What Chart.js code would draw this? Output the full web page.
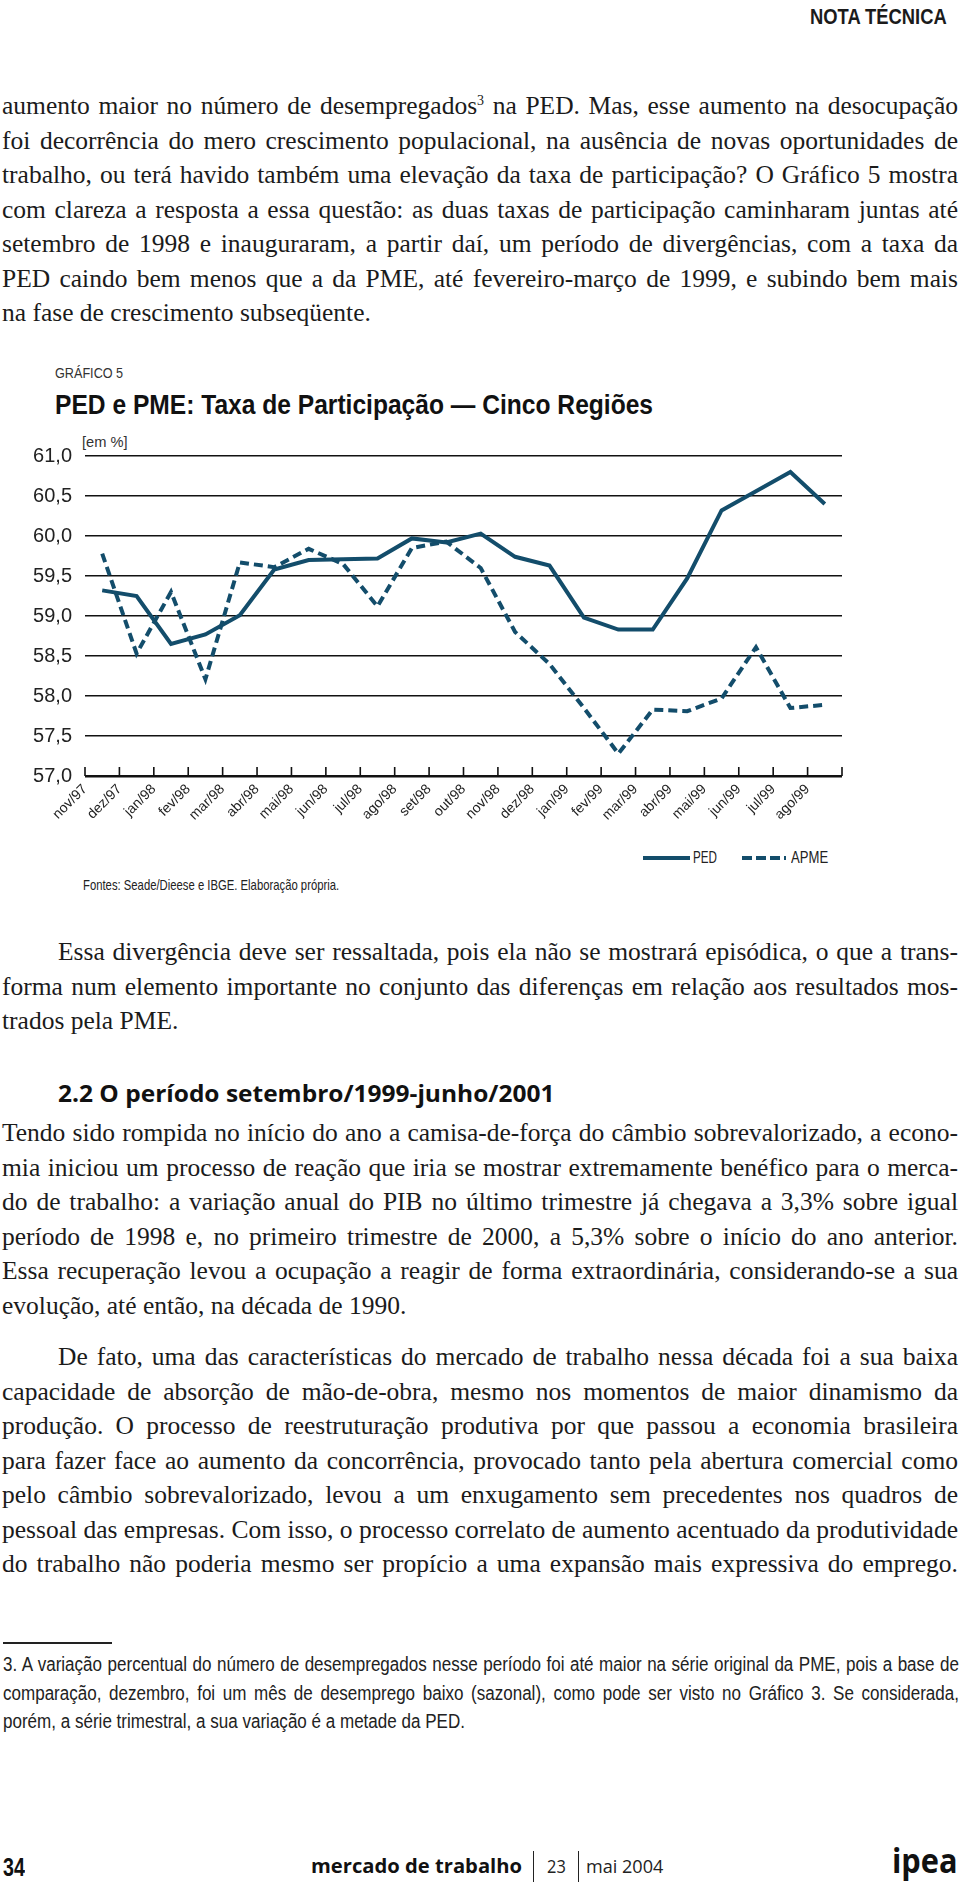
<!DOCTYPE html>
<html lang="pt">
<head>
<meta charset="utf-8">
<title>PED e PME: Taxa de Participação — Cinco Regiões</title>
<script src="https://cdn.jsdelivr.net/npm/chart.js@4.4.1/dist/chart.umd.min.js"></script>
<style>
  html, body { margin: 0; padding: 0; background: #fff; }
  body { position: relative; width: 960px; height: 1882px; overflow: hidden; color: #1b1b1b; }
  .abs { position: absolute; white-space: nowrap; }
  .fit { transform-origin: left center; }
  .fit.r { transform-origin: right center; }
  .ss { font-family: 'Liberation Sans', Arial, sans-serif; }
  .sans { font-family: 'Open Sans', 'Liberation Sans', sans-serif; }
  .para { position: absolute; left: 2px; width: 956px; font-family: 'Liberation Serif', 'DejaVu Serif', serif; font-size: 25.5px; }
  .para .ln { height: 34.5px; line-height: 34.5px; text-align: justify; text-align-last: justify; }
  .para .ln.last { text-align-last: left; }
  .para .ln.ind { text-indent: 56px; }
  .para sup { font-size: 14px; line-height: 0; }
  .foot { position: absolute; left: 3px; font-size: 19.5px; color: #222; transform-origin: left top; }
  .foot .ln { height: 28.7px; line-height: 28.7px; text-align: justify; text-align-last: justify; }
  .foot .ln.last { text-align-last: left; }
  #chartBox { position: absolute; left: 0; top: 430px; width: 960px; height: 400px; }
  .swatch { position: absolute; height: 4px; }
</style>
</head>
<body>

<div class="abs ss fit r" data-w="137" style="right: 13px; top: 3px; font-size: 22px; font-weight: bold; line-height: 28px;">NOTA TÉCNICA</div>

<div class="para" style="top: 89px;">
  <div class="ln">aumento maior no número de desempregados<sup>3</sup> na PED. Mas, esse aumento na desocupação</div>
  <div class="ln">foi decorrência do mero crescimento populacional, na ausência de novas oportunidades de</div>
  <div class="ln">trabalho, ou terá havido também uma elevação da taxa de participação? O Gráfico 5 mostra</div>
  <div class="ln">com clareza a resposta a essa questão: as duas taxas de participação caminharam juntas até</div>
  <div class="ln">setembro de 1998 e inauguraram, a partir daí, um período de divergências, com a taxa da</div>
  <div class="ln">PED caindo bem menos que a da PME, até fevereiro-março de 1999, e subindo bem mais</div>
  <div class="ln last">na fase de crescimento subseqüente.</div>
</div>

<div class="abs ss fit" data-w="68" style="left: 55px; top: 363px; font-size: 14.5px; line-height: 20px; color: #333;">GRÁFICO 5</div>
<div class="abs ss fit" data-w="598" style="left: 55px; top: 388px; font-size: 28px; font-weight: bold; line-height: 34px; color: #111;">PED e PME: Taxa de Participação — Cinco Regiões</div>
<div class="abs ss fit" data-w="46" style="left: 82px; top: 432px; font-size: 15px; line-height: 20px; color: #333;">[em %]</div>

<div id="chartBox"><canvas id="chart" width="960" height="400"></canvas></div>

<div class="swatch" style="left: 643px; top: 856px; width: 47px; background: #134d6b;"></div>
<div class="abs ss fit" data-w="24" style="left: 693px; top: 847px; font-size: 17px; line-height: 22px; color: #222;">PED</div>
<div class="swatch" style="left: 742px; top: 856px; width: 44px; background: repeating-linear-gradient(to right, #134d6b 0 10px, transparent 10px 14px);"></div>
<div class="abs ss fit" data-w="37" style="left: 791px; top: 847px; font-size: 17px; line-height: 22px; color: #222;">APME</div>

<div class="abs ss fit" data-w="256" style="left: 83px; top: 875px; font-size: 15px; line-height: 20px; color: #222;">Fontes: Seade/Dieese e IBGE. Elaboração própria.</div>

<div class="para" style="top: 935px;">
  <div class="ln ind">Essa divergência deve ser ressaltada, pois ela não se mostrará episódica, o que a trans-</div>
  <div class="ln">forma num elemento importante no conjunto das diferenças em relação aos resultados mos-</div>
  <div class="ln last">trados pela PME.</div>
</div>

<div class="abs sans fit" data-w="496" style="left: 58px; top: 1077px; font-size: 23px; font-weight: bold; line-height: 32px; color: #111;">2.2 O período setembro/1999-junho/2001</div>

<div class="para" style="top: 1116px;">
  <div class="ln">Tendo sido rompida no início do ano a camisa-de-força do câmbio sobrevalorizado, a econo-</div>
  <div class="ln">mia iniciou um processo de reação que iria se mostrar extremamente benéfico para o merca-</div>
  <div class="ln">do de trabalho: a variação anual do PIB no último trimestre já chegava a 3,3% sobre igual</div>
  <div class="ln">período de 1998 e, no primeiro trimestre de 2000, a 5,3% sobre o início do ano anterior.</div>
  <div class="ln">Essa recuperação levou a ocupação a reagir de forma extraordinária, considerando-se a sua</div>
  <div class="ln last">evolução, até então, na década de 1990.</div>
</div>

<div class="para" style="top: 1340px;">
  <div class="ln ind">De fato, uma das características do mercado de trabalho nessa década foi a sua baixa</div>
  <div class="ln">capacidade de absorção de mão-de-obra, mesmo nos momentos de maior dinamismo da</div>
  <div class="ln">produção. O processo de reestruturação produtiva por que passou a economia brasileira</div>
  <div class="ln">para fazer face ao aumento da concorrência, provocado tanto pela abertura comercial como</div>
  <div class="ln">pelo câmbio sobrevalorizado, levou a um enxugamento sem precedentes nos quadros de</div>
  <div class="ln">pessoal das empresas. Com isso, o processo correlato de aumento acentuado da produtividade</div>
  <div class="ln">do trabalho não poderia mesmo ser propício a uma expansão mais expressiva do emprego.</div>
</div>

<div style="position: absolute; left: 3px; top: 1642px; width: 109px; height: 1.5px; background: #222;"></div>
<div class="foot ss" id="foot" style="top: 1650px;">
  <div class="ln">3. A variação percentual do número de desempregados nesse período foi até maior na série original da PME, pois a base de</div>
  <div class="ln">comparação, dezembro, foi um mês de desemprego baixo (sazonal), como pode ser visto no Gráfico 3. Se considerada,</div>
  <div class="ln last"><span id="footLast">porém, a série trimestral, a sua variação é a metade da PED.</span></div>
</div>

<div class="abs ss fit" data-w="22" style="left: 3px; top: 1852px; font-size: 25px; font-weight: bold; line-height: 30px; color: #111;">34</div>
<div class="abs sans fit" data-w="211" style="left: 311px; top: 1852px; font-size: 20px; font-weight: bold; line-height: 28px; color: #111;">mercado de trabalho</div>
<div style="position: absolute; left: 533px; top: 1851px; width: 1px; height: 31px; background: #222;"></div>
<div class="abs sans fit" data-w="19" style="left: 547px; top: 1852px; font-size: 19px; line-height: 28px; color: #222;">23</div>
<div style="position: absolute; left: 578px; top: 1851px; width: 1px; height: 31px; background: #222;"></div>
<div class="abs sans fit" data-w="77" style="left: 586px; top: 1852px; font-size: 19px; line-height: 28px; color: #222;">mai 2004</div>
<div class="abs sans fit r" data-w="66" style="right: 2px; top: 1840px; font-size: 34px; font-weight: bold; line-height: 40px; color: #111;">ipea</div>

<script>
// --- Data ---
const months = ['nov/97', 'dez/97', 'jan/98', 'fev/98', 'mar/98', 'abr/98', 'mai/98', 'jun/98',
  'jul/98', 'ago/98', 'set/98', 'out/98', 'nov/98', 'dez/98', 'jan/99', 'fev/99', 'mar/99',
  'abr/99', 'mai/99', 'jun/99', 'jul/99', 'ago/99'];

const pedValues = [59.32, 59.25, 58.65, 58.77, 59.01, 59.58, 59.70, 59.71, 59.72, 59.97, 59.92,
  60.03, 59.74, 59.63, 58.98, 58.83, 58.83, 59.47, 60.32, 60.56, 60.80, 60.40];

const apmeValues = [59.78, 58.53, 59.30, 58.21, 59.67, 59.61, 59.84, 59.65, 59.12, 59.85, 59.93,
  59.60, 58.80, 58.40, 57.85, 57.28, 57.83, 57.81, 57.97, 58.61, 57.85, 57.89];

const yTickValues = [57.0, 57.5, 58.0, 58.5, 59.0, 59.5, 60.0, 60.5, 61.0];

// --- Style ---
const LINE_COLOR = '#134d6b';
const SANS = "'Liberation Sans', Arial, sans-serif";

// --- Text fitting (condensed look from regular fonts) ---
function fitText() {
  document.querySelectorAll('.fit').forEach(el => {
    el.style.transform = '';
    const natural = el.offsetWidth;
    el.style.transform = 'scaleX(' + (parseFloat(el.dataset.w) / natural) + ')';
  });

  // footnote: squeeze the block so the last line is as wide as in print
  const foot = document.getElementById('foot');
  foot.style.transform = '';
  foot.style.width = '2000px';
  const s = 462 / document.getElementById('footLast').offsetWidth;
  foot.style.width = (956 / s) + 'px';
  foot.style.transform = 'scaleX(' + s + ')';

  // keep every printed line on one line
  document.querySelectorAll('.para .ln, .foot .ln').forEach(ln => {
    let ls = 0;
    ln.style.letterSpacing = '';
    while (ln.scrollHeight > ln.clientHeight + 2 && ls > -2) {
      ls -= 0.05;
      ln.style.letterSpacing = ls + 'px';
    }
  });
}
fitText();
document.fonts.ready.then(fitText);

// points sit in the middle of each month slot, ticks on the slot edges
function toPoints(values) {
  return values.map((v, i) => ({ x: i + 0.5, y: v }));
}

// small tick marks pointing up from the base line
const innerTicks = {
  id: 'innerTicks',
  beforeDatasetsDraw(chart) {
    const { ctx, chartArea, scales } = chart;
    ctx.save();
    ctx.strokeStyle = '#111';
    ctx.lineWidth = 1.6;
    ctx.beginPath();
    for (let i = 0; i <= months.length; i++) {
      const px = scales.x.getPixelForValue(i);
      ctx.moveTo(px, chartArea.bottom);
      ctx.lineTo(px, chartArea.bottom - 9);
    }
    ctx.stroke();
    ctx.restore();
  }
};

new Chart(document.getElementById('chart').getContext('2d'), {
  type: 'line',
  data: {
    datasets: [
      {
        label: 'PED',
        data: toPoints(pedValues),
        borderColor: LINE_COLOR,
        borderWidth: 4,
        pointRadius: 0,
        tension: 0,
        borderJoinStyle: 'miter'
      },
      {
        label: 'APME',
        data: toPoints(apmeValues),
        borderColor: LINE_COLOR,
        borderWidth: 4,
        borderDash: [9, 5],
        pointRadius: 0,
        tension: 0
      }
    ]
  },
  options: {
    responsive: false,
    animation: false,
    layout: { padding: { top: 26, right: 118, left: 0, bottom: 0 } },
    plugins: {
      legend: { display: false },
      tooltip: { enabled: false }
    },
    scales: {
      x: {
        type: 'linear',
        min: 0,
        max: months.length,
        grid: { display: false, drawTicks: false },
        border: { display: false },
        afterFit: (scale) => { scale.height = 54; },
        ticks: {
          stepSize: 1,
          autoSkip: false,
          maxRotation: 45,
          minRotation: 45,
          padding: 5,
          color: '#222',
          font: { size: 14, family: SANS },
          callback: (value) => months[value] || ''
        }
      },
      y: {
        min: 57,
        max: 61,
        afterBuildTicks: (scale) => { scale.ticks = yTickValues.map(v => ({ value: v })); },
        afterFit: (scale) => { scale.width = 85; },
        grid: {
          color: '#111',
          lineWidth: (c) => (c.tick && c.tick.value === 57 ? 2.4 : 1.5),
          drawTicks: false
        },
        border: { display: false },
        ticks: {
          padding: 13,
          color: '#222',
          font: { size: 20, family: SANS },
          callback: (value) => value.toFixed(1).replace('.', ',')
        }
      }
    }
  },
  plugins: [innerTicks]
});
</script>
</body>
</html>
